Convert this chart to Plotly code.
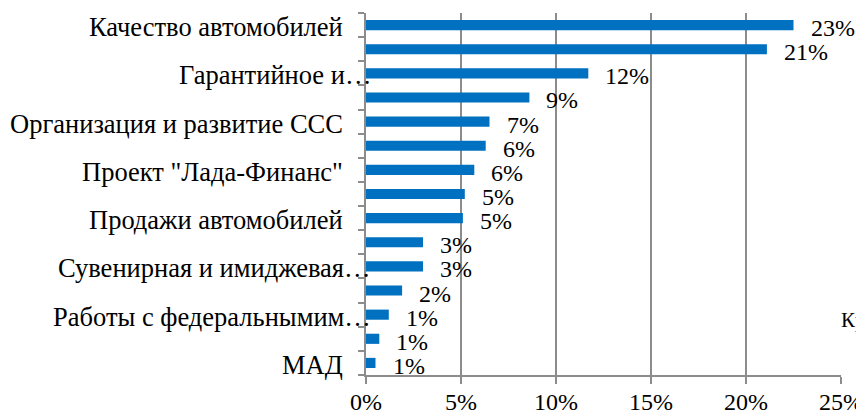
import plotly.graph_objects as go

# Data (top to bottom)
categories = [
    "Качество автомобилей", "", "Гарантийное и…", "", "Организация и развитие ССС", "",
    "Проект \"Лада-Финанс\"", "", "Продажи автомобилей", "", "Сувенирная и имиджевая…", "",
    "Работы с федеральнымим…", "", "МАД",
]
values = [22.5, 21.1, 11.7, 8.6, 6.5, 6.3, 5.7, 5.2, 5.1, 3.0, 3.0, 1.9, 1.2, 0.7, 0.5]
value_labels = ["23%", "21%", "12%", "9%", "7%", "6%", "6%", "5%", "5%", "3%", "3%", "2%", "1%", "1%", "1%"]
x_ticks = [0, 5, 10, 15, 20, 25]
x_tick_labels = ["0%", "5%", "10%", "15%", "20%", "25%"]
side_text = "Кр"

FONT = "Liberation Serif"
GRID = "#8c8c8c"
BAR = "#0070C0"
CAT_SIZE = 26.5
NUM_SIZE = 24

positions = list(range(len(categories)))
shown = [i for i, c in enumerate(categories) if c]

fig = go.Figure(go.Bar(
    x=values, y=positions, orientation="h",
    marker=dict(color=BAR, line=dict(width=0)),
    width=0.42,
))

# category labels (every other one shown, as in the original)
for i in shown:
    label = categories[i]
    fig.add_annotation(x=0, y=i, text=label, showarrow=False, xanchor="right",
                       xshift=7 if label.endswith("…") else -21, yshift=-2,
                       font=dict(family=FONT, size=CAT_SIZE, color="black"))

# value labels
for i, (v, t) in enumerate(zip(values, value_labels)):
    fig.add_annotation(x=v, y=i, text=t, showarrow=False, xanchor="left",
                       xshift=15, yshift=-3, font=dict(family=FONT, size=NUM_SIZE, color="black"))

fig.add_annotation(x=25, y=12.22, text=side_text, showarrow=False,
                   xanchor="left", xshift=-2, font=dict(family=FONT, size=21, color="black"))

# page has an 8px body margin, so the figure is 8px smaller and margins are shifted
fig.update_layout(
    width=856, height=408,
    margin=dict(l=358, r=23, t=5, b=41, autoexpand=False),
    paper_bgcolor="white", plot_bgcolor="white",
    font=dict(family=FONT, size=NUM_SIZE, color="black"),
    showlegend=False,
    xaxis=dict(range=[0, 25], tickvals=x_ticks, ticktext=x_tick_labels,
               showgrid=True, gridcolor=GRID, gridwidth=1.5,
               ticks="outside", ticklen=7, tickcolor=GRID, tickwidth=1.5,
               showline=True, linecolor=GRID, linewidth=1.5, zeroline=False,
               automargin=False, ticklabelstandoff=-3,
               tickfont=dict(family=FONT, size=NUM_SIZE)),
    yaxis=dict(range=[14.5, -0.5], tickvals=shown, showticklabels=False,
               ticks="", showgrid=False, zeroline=False,
               showline=True, linecolor=GRID, linewidth=1.5, automargin=False,
               minor=dict(tickvals=[p - 0.5 for p in positions] + [14.5], ticks="outside",
                          ticklen=6, tickcolor=GRID, tickwidth=1.5, showgrid=False)),
)

fig.write_html("out.html")
